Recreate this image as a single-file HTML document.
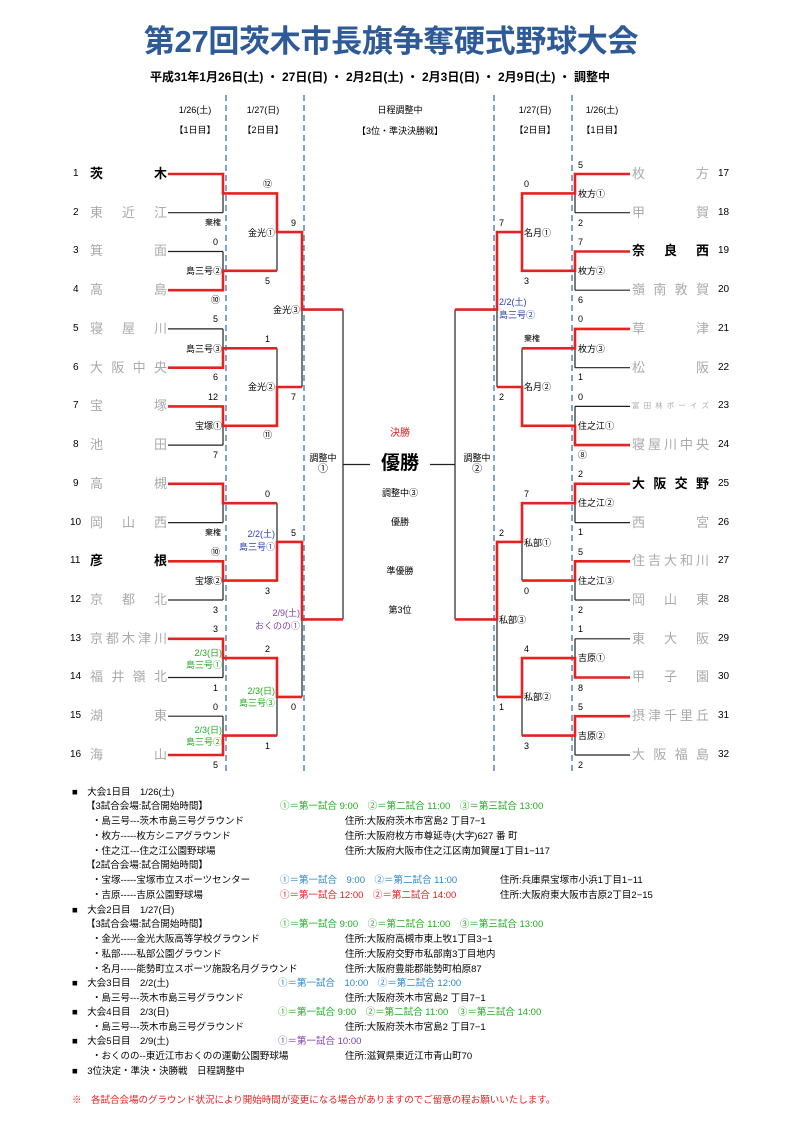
<!DOCTYPE html>
<html><head><meta charset="utf-8">
<style>
body{margin:0;background:#fff;}
#p{position:relative;width:800px;height:1132px;overflow:hidden;font-family:"Liberation Sans","Noto Sans CJK JP",sans-serif;color:#000;}
.a{position:absolute;white-space:nowrap;font-size:9px;line-height:12px;}
.r{text-align:right;}
.c{text-align:center;}
.bl{color:#2a3fb0;}
.gr{color:#22aa22;}
.pu{color:#7a3fa8;}
.rd{color:#e02020;}
.sb{color:#2b86c8;}
.tn{position:absolute;width:77px;display:flex;justify-content:space-between;font-size:13px;line-height:16px;color:#aaa;}
.tn.k{color:#000;font-weight:bold;}
.num{position:absolute;font-size:10px;line-height:16px;}
.n{position:absolute;white-space:nowrap;font-size:9.5px;line-height:13px;}
</style></head><body><div id="p">
<div class="a" style="left:0;width:782px;top:22px;text-align:center;font-size:31px;line-height:40px;color:#2e5a97;font-weight:bold;letter-spacing:-0.3px">第27回茨木市長旗争奪硬式野球大会</div>
<div class="a" style="left:0;width:760px;top:70px;text-align:center;font-size:12px;line-height:14px;font-weight:bold">平成31年1月26日(土) ・ 27日(日) ・ 2月2日(土) ・ 2月3日(日) ・ 2月9日(土) ・ 調整中</div>

<svg width="800" height="1132" style="position:absolute;left:0;top:0">
<g stroke="#5b8fc7" stroke-width="1.6" stroke-dasharray="6,4">
<line x1="226" y1="95" x2="226" y2="772"/><line x1="304" y1="95" x2="304" y2="772"/>
<line x1="494" y1="95" x2="494" y2="772"/><line x1="572" y1="95" x2="572" y2="772"/>
</g>
<g stroke="#222" stroke-width="1.2" fill="none">
<path d="M168 174H223M168 212.7H223M168 251.5H223M168 290.2H223M168 328.9H223M168 367.7H223M168 406.4H223M168 445.1H223M168 483.8H223M168 522.6H223M168 561.3H223M168 600H223M168 638.8H223M168 677.5H223M168 716.2H223M168 755H223"/>
<path d="M223 174V212.7M223 251.5V290.2M223 328.9V367.7M223 406.4V445.1M223 483.8V522.6M223 561.3V600M223 638.8V677.5M223 716.2V755"/>
<path d="M223 193.4H277M223 270.8H277M223 348.3H277M223 425.8H277M223 503.2H277M223 580.6H277M223 658.1H277M223 735.6H277"/>
<path d="M277 193.4V270.8M277 348.3V425.8M277 503.2V580.6M277 658.1V735.6M277 232.1H302M277 387H302M277 541.9H302M277 696.9H302"/>
<path d="M302 232.1V387M302 541.9V696.9M302 309.6H343M302 619.4H343M343 309.6V619.4M343 464.5H455"/>
<path d="M575 174H630M575 212.7H630M575 251.5H630M575 290.2H630M575 328.9H630M575 367.7H630M575 406.4H630M575 445.1H630M575 483.8H630M575 522.6H630M575 561.3H630M575 600H630M575 638.8H630M575 677.5H630M575 716.2H630M575 755H630"/>
<path d="M575 174V212.7M575 251.5V290.2M575 328.9V367.7M575 406.4V445.1M575 483.8V522.6M575 561.3V600M575 638.8V677.5M575 716.2V755"/>
<path d="M575 193.4H522M575 270.8H522M575 348.3H522M575 425.8H522M575 503.2H522M575 580.6H522M575 658.1H522M575 735.6H522"/>
<path d="M522 193.4V270.8M522 348.3V425.8M522 503.2V580.6M522 658.1V735.6M522 232.1H497M522 387H497M522 541.9H497M522 696.9H497"/>
<path d="M497 232.1V387M497 541.9V696.9M497 309.6H455M497 619.4H455M455 309.6V619.4"/>
</g>
<g stroke="#e52222" stroke-width="2.6" fill="none" stroke-linejoin="miter">
<path d="M168 174H223V193.4H277V232.1H302V309.6H343"/>
<path d="M168 290.2H223V270.8H277"/>
<path d="M168 367.7H223V348.3H277"/>
<path d="M168 406.4H223V425.8H277V387H302"/>
<path d="M168 483.8H223V503.2H277"/>
<path d="M168 561.3H223V580.6H277V541.9H302V619.4H343"/>
<path d="M168 638.8H223V658.1H277V696.9H302"/>
<path d="M168 755H223V735.6H277"/>
<path d="M630 174H575V193.4H522V232.1H497V309.6H455"/>
<path d="M630 251.5H575V270.8H522V232.1"/>
<path d="M630 328.9H575V348.3H522"/>
<path d="M630 445.1H575V425.8H522V387H497"/>
<path d="M630 483.8H575V503.2H522V541.9H497V619.4H455"/>
<path d="M630 561.3H575V580.6H522"/>
<path d="M630 677.5H575V658.1H522V696.9H497"/>
<path d="M630 716.2H575V735.6H522"/>
</g>
</svg>

<div class="a c" style="left:165px;width:60px;top:104px">1/26(土)</div>
<div class="a c" style="left:165px;width:60px;top:124px">【1日目】</div>
<div class="a c" style="left:233px;width:60px;top:104px">1/27(日)</div>
<div class="a c" style="left:233px;width:60px;top:124px">【2日目】</div>
<div class="a c" style="left:340px;width:120px;top:104px">日程調整中</div>
<div class="a c" style="left:340px;width:120px;top:125px">【3位・準決決勝戦】</div>
<div class="a c" style="left:505px;width:60px;top:104px">1/27(日)</div>
<div class="a c" style="left:505px;width:60px;top:124px">【2日目】</div>
<div class="a c" style="left:572px;width:60px;top:104px">1/26(土)</div>
<div class="a c" style="left:572px;width:60px;top:124px">【1日目】</div>

<div class="num" style="left:73px;top:166px">1</div><div class="tn k" style="left:90px;top:166px"><span>茨</span><span>木</span></div>
<div class="num" style="left:73px;top:205px">2</div><div class="tn" style="left:90px;top:205px"><span>東</span><span>近</span><span>江</span></div>
<div class="num" style="left:73px;top:243px">3</div><div class="tn" style="left:90px;top:243px"><span>箕</span><span>面</span></div>
<div class="num" style="left:73px;top:282px">4</div><div class="tn" style="left:90px;top:282px"><span>高</span><span>島</span></div>
<div class="num" style="left:73px;top:321px">5</div><div class="tn" style="left:90px;top:321px"><span>寝</span><span>屋</span><span>川</span></div>
<div class="num" style="left:73px;top:360px">6</div><div class="tn" style="left:90px;top:360px"><span>大</span><span>阪</span><span>中</span><span>央</span></div>
<div class="num" style="left:73px;top:398px">7</div><div class="tn" style="left:90px;top:398px"><span>宝</span><span>塚</span></div>
<div class="num" style="left:73px;top:437px">8</div><div class="tn" style="left:90px;top:437px"><span>池</span><span>田</span></div>
<div class="num" style="left:73px;top:476px">9</div><div class="tn" style="left:90px;top:476px"><span>高</span><span>槻</span></div>
<div class="num" style="left:70px;top:515px">10</div><div class="tn" style="left:90px;top:515px"><span>岡</span><span>山</span><span>西</span></div>
<div class="num" style="left:70px;top:553px">11</div><div class="tn k" style="left:90px;top:553px"><span>彦</span><span>根</span></div>
<div class="num" style="left:70px;top:592px">12</div><div class="tn" style="left:90px;top:592px"><span>京</span><span>都</span><span>北</span></div>
<div class="num" style="left:70px;top:631px">13</div><div class="tn" style="left:90px;top:631px"><span>京</span><span>都</span><span>木</span><span>津</span><span>川</span></div>
<div class="num" style="left:70px;top:669px">14</div><div class="tn" style="left:90px;top:669px"><span>福</span><span>井</span><span>嶺</span><span>北</span></div>
<div class="num" style="left:70px;top:708px">15</div><div class="tn" style="left:90px;top:708px"><span>湖</span><span>東</span></div>
<div class="num" style="left:70px;top:747px">16</div><div class="tn" style="left:90px;top:747px"><span>海</span><span>山</span></div>

<div class="tn" style="left:632px;top:166px"><span>枚</span><span>方</span></div><div class="num" style="left:718px;top:166px">17</div>
<div class="tn" style="left:632px;top:205px"><span>甲</span><span>賀</span></div><div class="num" style="left:718px;top:205px">18</div>
<div class="tn k" style="left:632px;top:243px"><span>奈</span><span>良</span><span>西</span></div><div class="num" style="left:718px;top:243px">19</div>
<div class="tn" style="left:632px;top:282px"><span>嶺</span><span>南</span><span>敦</span><span>賀</span></div><div class="num" style="left:718px;top:282px">20</div>
<div class="tn" style="left:632px;top:321px"><span>草</span><span>津</span></div><div class="num" style="left:718px;top:321px">21</div>
<div class="tn" style="left:632px;top:360px"><span>松</span><span>阪</span></div><div class="num" style="left:718px;top:360px">22</div>
<div class="tn" style="left:632px;top:398px;font-size:7.5px"><span>富</span><span>田</span><span>林</span><span>ボ</span><span>ー</span><span>イ</span><span>ズ</span></div><div class="num" style="left:718px;top:398px">23</div>
<div class="tn" style="left:632px;top:437px"><span>寝</span><span>屋</span><span>川</span><span>中</span><span>央</span></div><div class="num" style="left:718px;top:437px">24</div>
<div class="tn k" style="left:632px;top:476px"><span>大</span><span>阪</span><span>交</span><span>野</span></div><div class="num" style="left:718px;top:476px">25</div>
<div class="tn" style="left:632px;top:515px"><span>西</span><span>宮</span></div><div class="num" style="left:718px;top:515px">26</div>
<div class="tn" style="left:632px;top:553px"><span>住</span><span>吉</span><span>大</span><span>和</span><span>川</span></div><div class="num" style="left:718px;top:553px">27</div>
<div class="tn" style="left:632px;top:592px"><span>岡</span><span>山</span><span>東</span></div><div class="num" style="left:718px;top:592px">28</div>
<div class="tn" style="left:632px;top:631px"><span>東</span><span>大</span><span>阪</span></div><div class="num" style="left:718px;top:631px">29</div>
<div class="tn" style="left:632px;top:669px"><span>甲</span><span>子</span><span>園</span></div><div class="num" style="left:718px;top:669px">30</div>
<div class="tn" style="left:632px;top:708px"><span>摂</span><span>津</span><span>千</span><span>里</span><span>丘</span></div><div class="num" style="left:718px;top:708px">31</div>
<div class="tn" style="left:632px;top:747px"><span>大</span><span>阪</span><span>福</span><span>島</span></div><div class="num" style="left:718px;top:747px">32</div>

<div class="a r" style="right:579px;top:217px;font-size:8px">棄権</div>
<div class="a r" style="right:582px;top:236px">0</div>
<div class="a r" style="right:578px;top:265px">島三号②</div>
<div class="a r" style="right:580px;top:294px">⑩</div>
<div class="a r" style="right:582px;top:313px">5</div>
<div class="a r" style="right:578px;top:343px">島三号③</div>
<div class="a r" style="right:582px;top:371px">6</div>
<div class="a r" style="right:582px;top:391px">12</div>
<div class="a r" style="right:578px;top:420px">宝塚①</div>
<div class="a r" style="right:582px;top:449px">7</div>
<div class="a r" style="right:579px;top:527px;font-size:8px">棄権</div>
<div class="a r" style="right:580px;top:546px">⑩</div>
<div class="a r" style="right:578px;top:575px">宝塚②</div>
<div class="a r" style="right:582px;top:604px">3</div>
<div class="a r" style="right:582px;top:623px">3</div>
<div class="a r gr" style="right:578px;top:647px">2/3(日)</div>
<div class="a r gr" style="right:578px;top:659px">島三号①</div>
<div class="a r" style="right:582px;top:682px">1</div>
<div class="a r" style="right:582px;top:701px">0</div>
<div class="a r gr" style="right:578px;top:724px">2/3(日)</div>
<div class="a r gr" style="right:578px;top:736px">島三号②</div>
<div class="a r" style="right:582px;top:759px">5</div>
<div class="a" style="left:263px;top:178px">⑫</div>
<div class="a r" style="right:525px;top:227px">金光①</div>
<div class="a" style="left:265px;top:275px">5</div>
<div class="a" style="left:265px;top:333px">1</div>
<div class="a r" style="right:525px;top:381px">金光②</div>
<div class="a" style="left:263px;top:429px">⑪</div>
<div class="a" style="left:265px;top:488px">0</div>
<div class="a r bl" style="right:525px;top:528px">2/2(土)</div>
<div class="a r bl" style="right:525px;top:541px">島三号①</div>
<div class="a" style="left:265px;top:585px">3</div>
<div class="a" style="left:265px;top:643px">2</div>
<div class="a r gr" style="right:525px;top:685px">2/3(日)</div>
<div class="a r gr" style="right:525px;top:697px">島三号③</div>
<div class="a" style="left:265px;top:740px">1</div>
<div class="a" style="left:291px;top:217px">9</div>
<div class="a r" style="right:500px;top:304px">金光③</div>
<div class="a" style="left:291px;top:391px">7</div>
<div class="a" style="left:291px;top:527px">5</div>
<div class="a r pu" style="right:500px;top:607px">2/9(土)</div>
<div class="a r pu" style="right:500px;top:620px">おくのの①</div>
<div class="a" style="left:291px;top:701px">0</div>

<div class="a c" style="left:303px;width:40px;top:452px">調整中</div>
<div class="a c" style="left:303px;width:40px;top:464px;font-size:10px">①</div>
<div class="a c" style="left:457px;width:40px;top:452px">調整中</div>
<div class="a c" style="left:457px;width:40px;top:464px;font-size:10px">②</div>
<div class="a c rd" style="left:350px;width:100px;top:428px;font-size:10px">決勝</div>
<div class="a c" style="left:370px;width:60px;top:453px;font-size:19px;line-height:22px;font-weight:bold;background:#fff">優勝</div>
<div class="a c" style="left:350px;width:100px;top:487px">調整中③</div>
<div class="a c" style="left:350px;width:100px;top:516px">優勝</div>
<div class="a c" style="left:350px;width:100px;top:565px">準優勝</div>
<div class="a c" style="left:350px;width:100px;top:604px">第3位</div>

<div class="a" style="left:578px;top:159px">5</div>
<div class="a" style="left:578px;top:188px">枚方①</div>
<div class="a" style="left:578px;top:217px">2</div>
<div class="a" style="left:578px;top:236px">7</div>
<div class="a" style="left:578px;top:265px">枚方②</div>
<div class="a" style="left:578px;top:294px">6</div>
<div class="a" style="left:578px;top:313px">0</div>
<div class="a" style="left:578px;top:343px">枚方③</div>
<div class="a" style="left:578px;top:371px">1</div>
<div class="a" style="left:578px;top:391px">0</div>
<div class="a" style="left:578px;top:420px">住之江①</div>
<div class="a" style="left:578px;top:449px">⑧</div>
<div class="a" style="left:578px;top:468px">2</div>
<div class="a" style="left:578px;top:497px">住之江②</div>
<div class="a" style="left:578px;top:526px">1</div>
<div class="a" style="left:578px;top:546px">5</div>
<div class="a" style="left:578px;top:575px">住之江③</div>
<div class="a" style="left:578px;top:604px">2</div>
<div class="a" style="left:578px;top:623px">1</div>
<div class="a" style="left:578px;top:652px">吉原①</div>
<div class="a" style="left:578px;top:682px">8</div>
<div class="a" style="left:578px;top:701px">5</div>
<div class="a" style="left:578px;top:730px">吉原②</div>
<div class="a" style="left:578px;top:759px">2</div>
<div class="a" style="left:524px;top:178px">0</div>
<div class="a" style="left:524px;top:227px">名月①</div>
<div class="a" style="left:524px;top:275px">3</div>
<div class="a" style="left:524px;top:333px;font-size:8px">棄権</div>
<div class="a" style="left:524px;top:381px">名月②</div>
<div class="a" style="left:524px;top:488px">7</div>
<div class="a" style="left:524px;top:537px">私部①</div>
<div class="a" style="left:524px;top:585px">0</div>
<div class="a" style="left:524px;top:643px">4</div>
<div class="a" style="left:524px;top:691px">私部②</div>
<div class="a" style="left:524px;top:740px">3</div>
<div class="a" style="left:499px;top:217px">7</div>
<div class="a bl" style="left:499px;top:296px">2/2(土)</div>
<div class="a bl" style="left:499px;top:309px">島三号②</div>
<div class="a" style="left:499px;top:391px">2</div>
<div class="a" style="left:499px;top:527px">2</div>
<div class="a" style="left:499px;top:614px">私部③</div>
<div class="a" style="left:499px;top:701px">1</div>

<div class="n" style="left:72px;top:786px">■　大会1日目　1/26(土)</div>
<div class="n" style="left:86px;top:800px">【3試合会場:試合開始時間】</div>
<div class="n gr" style="left:280px;top:800px">①＝第一試合 9:00　②＝第二試合 11:00　③＝第三試合 13:00</div>
<div class="n" style="left:92px;top:815px">・島三号---茨木市島三号グラウンド</div><div class="n" style="left:345px;top:815px">住所:大阪府茨木市宮島2 丁目7−1</div>
<div class="n" style="left:92px;top:830px">・枚方-----枚方シニアグラウンド</div><div class="n" style="left:345px;top:830px">住所:大阪府枚方市尊延寺(大字)627 番 町</div>
<div class="n" style="left:92px;top:845px">・住之江---住之江公園野球場</div><div class="n" style="left:345px;top:845px">住所:大阪府大阪市住之江区南加賀屋1丁目1−117</div>
<div class="n" style="left:86px;top:859px">【2試合会場:試合開始時間】</div>
<div class="n" style="left:92px;top:874px">・宝塚-----宝塚市立スポーツセンター</div><div class="n sb" style="left:280px;top:874px">①＝第一試合　9:00　②＝第二試合 11:00</div><div class="n" style="left:500px;top:874px">住所:兵庫県宝塚市小浜1丁目1−11</div>
<div class="n" style="left:92px;top:889px">・吉原-----吉原公園野球場</div><div class="n rd" style="left:280px;top:889px">①＝第一試合 12:00　②＝第二試合 14:00</div><div class="n" style="left:500px;top:889px">住所:大阪府東大阪市吉原2丁目2−15</div>
<div class="n" style="left:72px;top:904px">■　大会2日目　1/27(日)</div>
<div class="n" style="left:86px;top:918px">【3試合会場:試合開始時間】</div>
<div class="n gr" style="left:280px;top:918px">①＝第一試合 9:00　②＝第二試合 11:00　③＝第三試合 13:00</div>
<div class="n" style="left:92px;top:933px">・金光-----金光大阪高等学校グラウンド</div><div class="n" style="left:345px;top:933px">住所:大阪府高槻市東上牧1丁目3−1</div>
<div class="n" style="left:92px;top:948px">・私部-----私部公園グラウンド</div><div class="n" style="left:345px;top:948px">住所:大阪府交野市私部南3丁目地内</div>
<div class="n" style="left:92px;top:963px">・名月-----能勢町立スポーツ施設名月グラウンド</div><div class="n" style="left:345px;top:963px">住所:大阪府豊能郡能勢町柏原87</div>
<div class="n" style="left:72px;top:977px">■　大会3日目　2/2(土)</div><div class="n sb" style="left:278px;top:977px">①＝第一試合　10:00　②＝第二試合 12:00</div>
<div class="n" style="left:92px;top:992px">・島三号---茨木市島三号グラウンド</div><div class="n" style="left:345px;top:992px">住所:大阪府茨木市宮島2 丁目7−1</div>
<div class="n" style="left:72px;top:1006px">■　大会4日目　2/3(日)</div><div class="n gr" style="left:278px;top:1006px">①＝第一試合 9:00　②＝第二試合 11:00　③＝第三試合 14:00</div>
<div class="n" style="left:92px;top:1021px">・島三号---茨木市島三号グラウンド</div><div class="n" style="left:345px;top:1021px">住所:大阪府茨木市宮島2 丁目7−1</div>
<div class="n" style="left:72px;top:1035px">■　大会5日目　2/9(土)</div><div class="n pu" style="left:278px;top:1035px">①＝第一試合 10:00</div>
<div class="n" style="left:92px;top:1050px">・おくのの--東近江市おくのの運動公園野球場</div><div class="n" style="left:345px;top:1050px">住所:滋賀県東近江市青山町70</div>
<div class="n" style="left:72px;top:1065px">■　3位決定・準決・決勝戦　日程調整中</div>
<div class="n rd" style="left:72px;top:1094px">※　各試合会場のグラウンド状況により開始時間が変更になる場合がありますのでご留意の程お願いいたします。</div>
</div></body></html>
